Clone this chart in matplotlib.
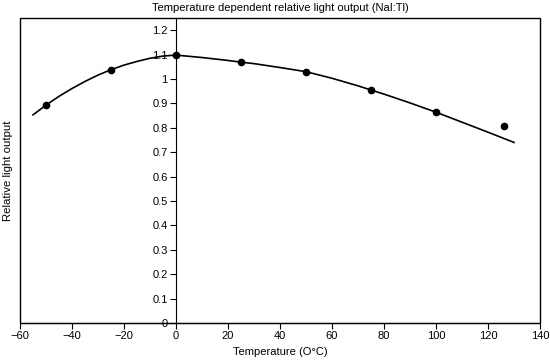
import matplotlib.pyplot as plt
from matplotlib.patches import Rectangle

plt.rcParams['font.family'] = ['Liberation Sans', 'DejaVu Sans']

# measured points
temp = [-50, -25, 0, 25, 50, 75, 100, 126]
light = [0.893, 1.038, 1.098, 1.069, 1.030, 0.955, 0.864, 0.806]

# fitted curve
curve_t = [-55, -50, -45, -40, -35, -30, -25, -20, -15, -10, -5, 0,
           10, 20, 25, 30, 40, 50, 60, 70, 75, 80, 90, 100, 110, 120, 130]
curve_y = [0.853, 0.893, 0.929, 0.961, 0.990, 1.016, 1.038, 1.057, 1.072,
           1.085, 1.094, 1.098, 1.088, 1.076, 1.069, 1.063, 1.047, 1.030,
           1.003, 0.972, 0.955, 0.938, 0.902, 0.864, 0.823, 0.782, 0.740]

xticks = list(range(-60, 141, 20))
yticks = [i / 10 for i in range(13)]
ylabels = ["0", "0.1", "0.2", "0.3", "0.4", "0.5", "0.6", "0.7", "0.8",
           "0.9", "1", "1.1", "1.2"]

fig = plt.figure(figsize=(5.5, 3.64), dpi=100)
ax = fig.add_axes([20 / 550, 41 / 364, 520 / 550, 305 / 364])

ax.plot(curve_t, curve_y, color="black", lw=1.2)
ax.plot(temp, light, "o", color="black", ms=4.5)

ax.set_xlim(-60, 140)
ax.set_ylim(0, 1.25)

ax.spines['left'].set_position(('data', 0))
ax.spines['right'].set_visible(False)
ax.spines['top'].set_visible(False)
ax.add_patch(Rectangle((0, 0), 1, 1, transform=ax.transAxes, fill=False,
                       lw=1, color="black", clip_on=False))

ax.set_xticks(xticks)
ax.set_xticklabels([str(t).replace("-", "\u2212") for t in xticks])
ax.set_yticks(yticks)
ax.set_yticklabels(ylabels)
ax.tick_params(direction="out", length=4, width=0.8, labelsize=8, pad=2)

ax.set_title("Temperature dependent relative light output (NaI:Tl)",
             fontsize=8, pad=5)
ax.set_xlabel("Temperature (O\u00b0C)", fontsize=8, labelpad=4)
fig.text(8 / 550, 0.53, "Relative light output", rotation=90,
         fontsize=8.2, ha="center", va="center")

fig.savefig("out.png", dpi=100)
